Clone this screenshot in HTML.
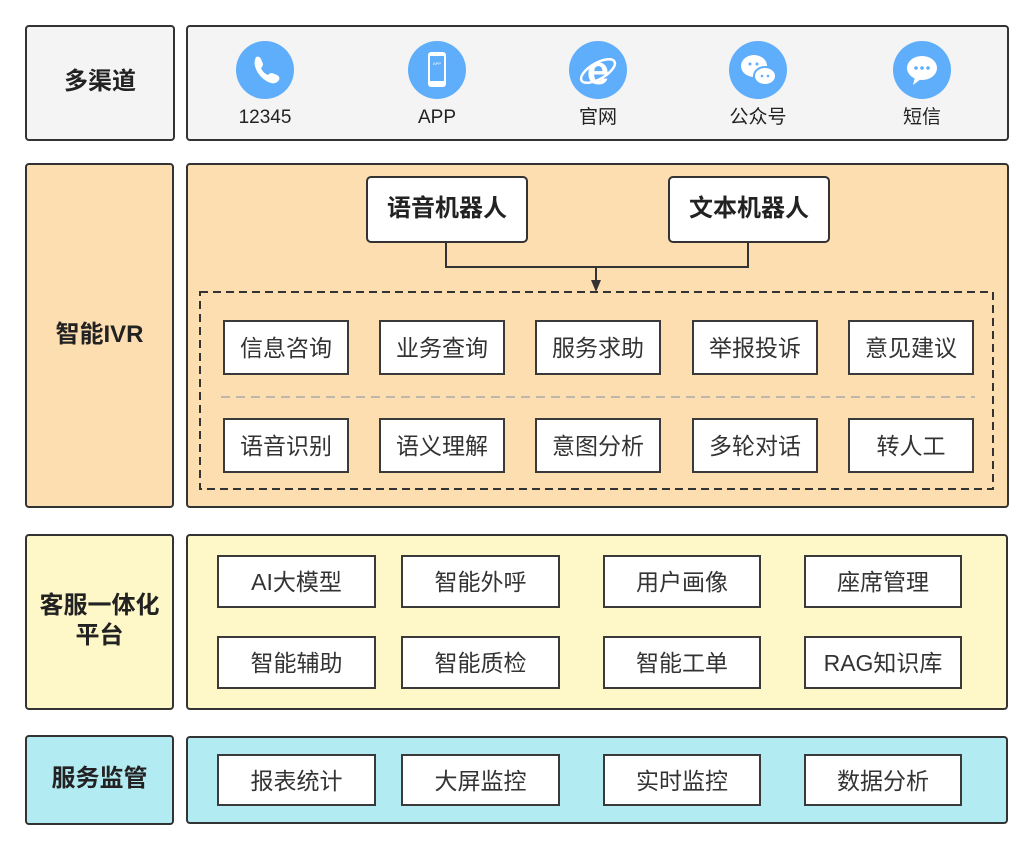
<!DOCTYPE html>
<html><head><meta charset="utf-8"><style>
body{margin:0;width:1033px;height:849px;background:#fff;position:relative;font-family:"Liberation Sans","Noto Sans CJK SC",sans-serif;overflow:hidden}
.b{position:absolute;box-sizing:border-box;border:2px solid #333;border-radius:4px}
.t{display:flex;align-items:center;justify-content:center;font-weight:bold;font-size:24px;color:#222;text-align:center;line-height:30px;padding-bottom:2px}
.i{position:absolute;box-sizing:border-box;border:2px solid #3a3a3a;background:#fff;display:flex;align-items:center;justify-content:center;font-size:23px;color:#333;padding-bottom:3px}
.c{position:absolute;width:58px;height:58px;border-radius:50%;background:#5faefc;top:41px}
.l{position:absolute;top:106px;width:120px;height:24px;line-height:24px;text-align:center;font-size:19px;color:#222}
</style></head><body>
<div class="b t" style="left:25px;top:25px;width:150px;height:116px;background:#f4f4f4">多渠道</div>
<div class="b" style="left:186px;top:25px;width:823px;height:116px;background:#f4f4f4"></div>
<div class="c" style="left:236px"><svg width="58" height="58" viewBox="0 0 58 58"><path d="M20 16c2-1 4 0 5 2l2 5c0 2-1 3-2 4 1 3 4 6 7 7 1-1 2-2 4-2l5 2c2 1 3 3 2 5-2 3-5 4-8 3-7-2-14-9-16-17-1-3 0-7 1-9z" fill="#fff"/></svg></div>
<div class="l" style="left:205px">12345</div>
<div class="c" style="left:408px"><svg width="58" height="58" viewBox="0 0 58 58"><rect x="20" y="11" width="18" height="35" rx="3" fill="#fff"/><rect x="22" y="15" width="14" height="25" fill="#5faefc"/><text x="29" y="24" font-size="4" fill="#fff" text-anchor="middle">APP</text></svg></div>
<div class="l" style="left:377px">APP</div>
<div class="c" style="left:569px"><svg width="58" height="58" viewBox="0 0 58 58"><text x="29" y="43" font-size="40" font-weight="bold" fill="#fff" text-anchor="middle" font-family="Liberation Sans">e</text><ellipse cx="29" cy="30" rx="19" ry="8" fill="none" stroke="#fff" stroke-width="2.5" transform="rotate(-30 29 30)"/></svg></div>
<div class="l" style="left:538px">官网</div>
<div class="c" style="left:729px"><svg width="58" height="58" viewBox="0 0 58 58"><ellipse cx="25" cy="25" rx="13" ry="11" fill="#fff"/><ellipse cx="36" cy="35" rx="11" ry="9" fill="#fff" stroke="#5faefc" stroke-width="2"/><circle cx="21" cy="23" r="1.5" fill="#5faefc"/><circle cx="28" cy="23" r="1.5" fill="#5faefc"/><circle cx="33" cy="35" r="1.3" fill="#5faefc"/><circle cx="39" cy="35" r="1.3" fill="#5faefc"/></svg></div>
<div class="l" style="left:698px">公众号</div>
<div class="c" style="left:893px"><svg width="58" height="58" viewBox="0 0 58 58"><ellipse cx="29" cy="27" rx="15" ry="12" fill="#fff"/><path d="M22 36l-2 8 8-6z" fill="#fff"/><circle cx="23" cy="27" r="1.8" fill="#5faefc"/><circle cx="29" cy="27" r="1.8" fill="#5faefc"/><circle cx="35" cy="27" r="1.8" fill="#5faefc"/></svg></div>
<div class="l" style="left:862px">短信</div>
<div class="b t" style="left:25px;top:163px;width:149px;height:345px;background:#fddeb0">智能IVR</div>
<div class="b" style="left:186px;top:163px;width:823px;height:345px;background:#fddeb0"></div>
<div class="b t" style="left:366px;top:176px;width:162px;height:67px;background:#fff;border-radius:5px">语音机器人</div>
<div class="b t" style="left:668px;top:176px;width:162px;height:67px;background:#fff;border-radius:5px">文本机器人</div>
<svg style="position:absolute;left:0;top:0" width="1033" height="849">
<path d="M446 243V267H748V243M596 267V282" fill="none" stroke="#333" stroke-width="2"/>
<path d="M591 280L601 280L596 292Z" fill="#333"/>
<rect x="200" y="292" width="793" height="197" fill="none" stroke="#333" stroke-width="2" stroke-dasharray="8 5"/>
<line x1="221" y1="397" x2="975" y2="397" stroke="#aaa" stroke-width="1.5" stroke-dasharray="9 6"/>
</svg>
<div class="i" style="left:223px;top:320px;width:126px;height:55px">信息咨询</div>
<div class="i" style="left:379px;top:320px;width:126px;height:55px">业务查询</div>
<div class="i" style="left:535px;top:320px;width:126px;height:55px">服务求助</div>
<div class="i" style="left:692px;top:320px;width:126px;height:55px">举报投诉</div>
<div class="i" style="left:848px;top:320px;width:126px;height:55px">意见建议</div>
<div class="i" style="left:223px;top:418px;width:126px;height:55px">语音识别</div>
<div class="i" style="left:379px;top:418px;width:126px;height:55px">语义理解</div>
<div class="i" style="left:535px;top:418px;width:126px;height:55px">意图分析</div>
<div class="i" style="left:692px;top:418px;width:126px;height:55px">多轮对话</div>
<div class="i" style="left:848px;top:418px;width:126px;height:55px">转人工</div>
<div class="b t" style="left:25px;top:534px;width:149px;height:176px;background:#fef8c8">客服一体化<br>平台</div>
<div class="b" style="left:186px;top:534px;width:822px;height:176px;background:#fef8c8"></div>
<div class="i" style="left:217px;top:555px;width:159px;height:53px">AI大模型</div>
<div class="i" style="left:401px;top:555px;width:159px;height:53px">智能外呼</div>
<div class="i" style="left:603px;top:555px;width:158px;height:53px">用户画像</div>
<div class="i" style="left:804px;top:555px;width:158px;height:53px">座席管理</div>
<div class="i" style="left:217px;top:636px;width:159px;height:53px">智能辅助</div>
<div class="i" style="left:401px;top:636px;width:159px;height:53px">智能质检</div>
<div class="i" style="left:603px;top:636px;width:158px;height:53px">智能工单</div>
<div class="i" style="left:804px;top:636px;width:158px;height:53px">RAG知识库</div>
<div class="b t" style="left:25px;top:735px;width:149px;height:90px;background:#b3ebf2">服务监管</div>
<div class="b" style="left:186px;top:736px;width:822px;height:88px;background:#b3ebf2"></div>
<div class="i" style="left:217px;top:754px;width:159px;height:52px">报表统计</div>
<div class="i" style="left:401px;top:754px;width:159px;height:52px">大屏监控</div>
<div class="i" style="left:603px;top:754px;width:158px;height:52px">实时监控</div>
<div class="i" style="left:804px;top:754px;width:158px;height:52px">数据分析</div>
</body></html>
